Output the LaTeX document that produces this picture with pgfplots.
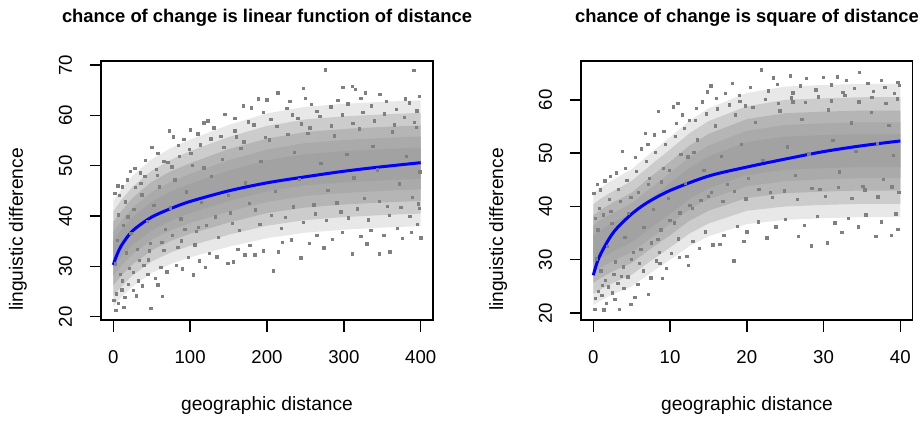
\documentclass[border=0pt]{standalone}
\usepackage{fontspec}
\setmainfont{Liberation Sans}
\usepackage{pgfplots}
\pgfplotsset{compat=1.18}

\pgfplotsset{
  rplot/.style={
    scale only axis,
    anchor=south west,
    height=129.5pt,
    axis line style={line width=0.7pt},
    every tick/.style={black, line width=0.7pt},
    tick align=outside,
    tick pos=left,
    major tick length=5.75pt,
    /pgf/number format/assume math mode=true,
    tick label style={font=\fontsize{9.3}{11}\selectfont},
    xticklabel style={anchor=base, yshift=-15.75pt},
    yticklabel style={rotate=90, anchor=south, inner sep=0pt, outer sep=0pt},
    yticklabel shift=8.75pt,
  },
  band1/.style={fill=gray!18, draw=none},
  band2/.style={fill=gray!40, draw=none},
  band3/.style={fill=gray!58, draw=none},
  band4/.style={fill=gray!67, draw=none},
  band5/.style={fill=gray!73, draw=none},
  dots/.style={color=gray, only marks, mark=square*, mark size=0.6pt, mark options={draw=none, fill=gray}},
  fit/.style={blue, line width=1.5pt, no marks, smooth},
}

\begin{document}
\begin{tikzpicture}
\path[use as bounding box] (0,0) rectangle (460pt,210pt);

% left panel
\begin{axis}[rplot, at={(50.5pt,50pt)}, width=166pt,
  xmin=-16, xmax=416, ymin=19.35, ymax=70.8,
  xtick={0,100,200,300,400}, ytick={20,30,40,50,60,70}]
\addplot[band1] coordinates {(0,43) (10,45.2) (25,48) (50,51.3) (75,53.5) (100,55.2) (150,58.1) (200,60.4) (250,61.7) (300,62.3) (350,62.7) (400,63)
 (400,38) (350,37.7) (300,37.3) (250,36.7) (200,35.6) (150,33.9) (100,31.8) (75,30.5) (50,28.7) (25,26) (10,23.8) (0,22)} -- cycle;
\addplot[band2] coordinates {(0,40.9) (10,43.1) (25,45.8) (50,49) (75,51.2) (100,52.9) (150,55.7) (200,57.9) (250,59.2) (300,59.8) (350,60.2) (400,60.5)
 (400,40.5) (350,40.2) (300,39.8) (250,39.2) (200,38.1) (150,36.3) (100,34.1) (75,32.8) (50,31) (25,28.2) (10,25.9) (0,24.1)} -- cycle;
\addplot[band3] coordinates {(0,38.8) (10,40.9) (25,43.6) (50,46.8) (75,48.9) (100,50.5) (150,53.3) (200,55.4) (250,56.7) (300,57.3) (350,57.7) (400,58)
 (400,43) (350,42.7) (300,42.3) (250,41.7) (200,40.6) (150,38.7) (100,36.5) (75,35.1) (50,33.2) (25,30.4) (10,28.1) (0,26.2)} -- cycle;
\addplot[band4] coordinates {(0,36.9) (10,39) (25,41.6) (50,44.8) (75,46.8) (100,48.4) (150,51.1) (200,53.2) (250,54.5) (300,55.1) (350,55.5) (400,55.8)
 (400,45.3) (350,45) (300,44.6) (250,44) (200,42.8) (150,40.9) (100,38.6) (75,37.2) (50,35.3) (25,32.4) (10,30) (0,28.1)} -- cycle;
\addplot[band5] coordinates {(0,35.1) (10,37.2) (25,39.8) (50,42.8) (75,44.9) (100,46.4) (150,49) (200,51.1) (250,52.3) (300,52.9) (350,53.3) (400,53.6)
 (400,47.4) (350,47.1) (300,46.7) (250,46.1) (200,44.9) (150,43) (100,40.6) (75,39.1) (50,37.2) (25,34.3) (10,31.8) (0,29.9)} -- cycle;
\addplot[dots] coordinates {
(276,69.0) (391,68.9) (299,65.6) (247,65.4) (214,64.5) (380,63.3) (169,61.9) (189,63.3) (200,63.1) (322,63.4) (328,64.5) (347,64.2) (315,65.2) (73,56.9) (118,58.5) (123,58.9) (311,65.7)
(49,21.7) (3.5,21.3) (64,24) (104,28.3) (149,30.6) (156,30.9) (171,32.3) (184,32.3) (208,29.1) (244,31.7) (311,32.5) (346,32.5) (360,32.9) (274,33.7) (400,35.7) (376,35.6)
(2,44.5) (6,46) (12,45.8) (18,47.2) (28,49.5) (35,48.6) (42,51) (58,52.4) (66,50.8) (85,54) (92,55.2) (110,56.3) (131,57.5) (140,55.8) (158,59.4) (176,58.7) (195,60.6) (205,59.2) (226,61.4) (233,60.1) (258,62.2) (265,60.8) (283,61.7) (292,63) (305,62.3) (336,61.9) (355,62.8) (368,61.2) (385,62.5) (395,60.9) (398,63.8) (250,63.4) (180,61.5) (145,60.2) (100,57.1) (78,55.7) (22,48.9) (8,44.1) (50,53.6) (230,62.8)
(1,23.2) (4,24.5) (7,22.6) (11,25.3) (15,23.9) (20,26.4) (26,25.2) (33,27.1) (38,26.1) (45,28.4) (55,27.6) (62,29.8) (70,28.9) (82,30.2) (90,29.5) (98,31.8) (112,31.1) (125,32.6) (135,31.9) (162,33.4) (178,34.2) (195,33.1) (220,34.8) (232,35.3) (255,34.6) (265,36.2) (285,35.4) (298,36.7) (322,35.9) (335,37.2) (352,36.1) (370,37.5) (388,36.8) (396,38.3) (14,21.9) (30,24.1) (58,26.3) (120,29.8) (215,32.9) (330,34.5)
(3,30.5) (5,35.2) (9,28.4) (13,38.1) (17,32.7) (23,36.5) (27,41.3) (31,33.4) (37,44.2) (44,38.9) (48,34.6) (53,42.1) (60,45.8) (68,37.3) (74,41.6) (80,47.2) (88,39.4) (95,44.8) (103,50.1) (108,36.9) (115,42.7) (128,47.9) (133,39.8) (142,51.2) (150,44.1) (155,38.5) (166,53.4) (172,46.6) (185,41.2) (192,50.8) (203,55.1) (211,44.9) (224,39.7) (236,52.6) (242,47.3) (253,56.4) (261,42.2) (270,50.5) (279,45.1) (288,55.9) (296,40.8) (304,52.2) (313,47.6) (320,57.3) (327,43.5) (338,53.8) (344,49.2) (357,41.9) (363,56.7) (372,46.4) (381,51.9) (389,43.7) (394,57.6) (399,48.8) (398,41.5) (245,58.3) (160,55.7) (118,49.6) (84,33.8) (40,30.2)
(7,40.2) (16,42.8) (21,29.6) (29,45.7) (34,31.2) (41,47.9) (47,33.1) (56,49.3) (63,34.8) (71,50.6) (77,36.2) (86,51.9) (93,37.4) (99,53.2) (106,34.3) (113,54.1) (121,38.2) (127,55.3) (137,35.8) (144,53.6) (152,40.6) (158,56.9) (164,37.2) (170,54.7) (177,42.5) (183,58.1) (191,38.3) (198,55.6) (206,40.1) (213,57.8) (219,37.6) (227,56.2) (234,41.8) (240,59.4) (247,38.7) (256,57.5) (263,40.4) (269,59.8) (277,39.1) (284,57.9) (291,42.6) (298,60.1) (306,39.6) (312,58.4) (318,41.4) (325,60.6) (332,39.2) (340,58.9) (346,42.9) (353,60.3) (359,40.1) (366,58.1) (374,41.7) (379,59.6) (386,39.9) (392,58.6) (397,42.4) (12,27.1) (19,39.8) (26,28.8) (36,46.5) (46,31.3) (57,48.1) (66,33.2) (76,49.8) (89,35.1) (101,52.4) (111,37.8)
};
\addplot[fit] coordinates {(0,30.3) (2,31.2) (5,32.4) (10,34.0) (20,36.2) (30,37.7) (50,39.8) (75,41.5) (100,42.9) (150,45.0) (200,46.6) (250,47.8) (300,48.9) (350,49.8) (400,50.6)};
\end{axis}

% right panel
\begin{axis}[rplot, at={(290.5pt,50pt)}, width=165.8pt,
  xmin=-1.6, xmax=41.6, ymin=18.7, ymax=67.3,
  xtick={0,10,20,30,40}, ytick={20,30,40,50,60}]
\addplot[band1] coordinates {(0,42.5) (1,43.6) (2.5,44.95) (5,47) (7.5,50.05) (10,53) (12.5,56.05) (15,58.4) (20,61.3) (25,62.5) (30,62.8) (35,63) (40,63)
 (40,38) (35,38) (30,37.8) (25,37.5) (20,36.7) (15,34.4) (12.5,32.55) (10,30) (7.5,27.55) (5,25) (2.5,23.45) (1,22.4) (0,21.5)} -- cycle;
\addplot[band2] coordinates {(0,40.4) (1,41.5) (2.5,42.8) (5,44.8) (7.5,47.8) (10,50.7) (12.5,53.7) (15,56) (20,58.8) (25,60) (30,60.3) (35,60.5) (40,60.5)
 (40,40.5) (35,40.5) (30,40.3) (25,40) (20,39.2) (15,36.8) (12.5,34.9) (10,32.3) (7.5,29.8) (5,27.2) (2.5,25.6) (1,24.5) (0,23.6)} -- cycle;
\addplot[band3] coordinates {(0,38.3) (1,39.4) (2.5,40.7) (5,42.6) (7.5,45.6) (10,48.4) (12.5,51.4) (15,53.6) (20,56.4) (25,57.5) (30,57.8) (35,58) (40,58)
 (40,43) (35,43) (30,42.8) (25,42.5) (20,41.6) (15,39.2) (12.5,37.3) (10,34.6) (7.5,32.1) (5,29.4) (2.5,27.8) (1,26.6) (0,25.7)} -- cycle;
\addplot[band4] coordinates {(0,36.4) (1,37.5) (2.5,38.7) (5,40.6) (7.5,43.5) (10,46.3) (12.5,49.2) (15,51.4) (20,54.2) (25,55.3) (30,55.6) (35,55.8) (40,55.8)
 (40,45.3) (35,45.3) (30,45.1) (25,44.8) (20,43.8) (15,41.4) (12.5,39.4) (10,36.7) (7.5,34.1) (5,31.4) (2.5,29.7) (1,28.6) (0,27.6)} -- cycle;
\addplot[band5] coordinates {(0,34.6) (1,35.7) (2.5,36.9) (5,38.8) (7.5,41.6) (10,44.4) (12.5,47.2) (15,49.4) (20,52.1) (25,53.1) (30,53.4) (35,53.6) (40,53.6)
 (40,47.4) (35,47.4) (30,47.2) (25,46.9) (20,45.9) (15,43.4) (12.5,41.4) (10,38.6) (7.5,36) (5,33.3) (2.5,31.5) (1,30.4) (0,29.4)} -- cycle;
\addplot[dots] coordinates {
(21.9,65.6) (34.7,65.2) (25.7,64.5) (27.8,64.0) (30,64.2) (31.8,64.3) (33,63.7) (37.5,63.7) (39.7,63.3) (18.1,63.1) (14.9,61.5) (8.5,57.8) (10.4,58.7) (3.8,50.3)
(0.2,20.7) (1.4,20.6) (3.4,20.7) (4.9,21.6) (5.4,22.9) (7.2,23.5) (1.7,21.8) (2.8,22.6) (8.7,29.3) (12.2,30.6) (12.4,29.0) (15.6,32.8) (16.5,32.9) (18.3,29.8) (28.4,32.6) (30.5,33.2) (26.7,34.4) (22.6,34.1) (36.8,34.4) (38.8,34.6) (39.7,35.7)
(0.1,42.5) (0.5,44.2) (0.9,43.1) (1.5,44.8) (2.2,45.6) (3,46.3) (4.2,47.1) (5.5,49.2) (6.3,50.8) (7.1,51.6) (8,53.4) (9.2,54.1) (10.8,55.6) (11.6,57.2) (12.5,56.1) (13.4,58.4) (14.2,59.6) (16,60.3) (17.2,61.2) (19,60.8) (20.5,62.4) (22.8,61.7) (24,62.9) (26,61.3) (27,62.6) (29,61.9) (31,62.8) (32.5,61.4) (34,62.2) (35.8,63.1) (36.5,61.6) (38,62.4) (39.2,61.2) (39.9,62.7) (15.3,62.6) (23.5,64.1) (11,59.4) (6.8,53.7)
(0.3,22.8) (0.7,24.1) (1.1,23.3) (2,24.9) (2.5,23.8) (3.2,25.6) (4,24.6) (4.5,26.8) (5.8,25.4) (6.5,27.9) (7.5,26.6) (8.2,29.8) (9.5,28.4) (10.2,31.2) (11.2,30.4) (13,33.5) (13.8,32.1) (14.6,35.2) (17,34.6) (18.8,36.3) (20,35.2) (21.5,37.1) (23.8,36.2) (25,37.6) (27.5,36.4) (29.2,38.1) (31.5,36.9) (33.2,37.8) (34.5,36.2) (35.5,38.4) (37.5,37.1) (39.4,38.6) (9,26.5) (19.6,33.4) (32.4,35.1)
(0.4,30.2) (0.6,35.6) (1,27.9) (1.3,38.4) (1.8,32.5) (2.4,36.8) (2.9,29.6) (3.5,40.9) (4.1,34.2) (4.6,38.7) (5.2,31.4) (5.9,42.6) (6.6,36.1) (7.3,45.3) (7.8,39.4) (8.4,33.8) (9.1,47.2) (9.8,41.5) (10.6,36.9) (11.4,49.8) (12,44.3) (12.9,39.6) (13.6,52.5) (14.4,46.8) (15,41.9) (15.9,55.1) (16.7,49.4) (17.5,44.1) (18.5,57.2) (19.3,51.6) (20.2,45.3) (21.1,55.8) (22.1,48.7) (23.1,42.6) (24.3,57.9) (25.3,51.2) (26.3,45.8) (27.2,56.3) (28.1,49.9) (29.5,43.2) (30.6,58.1) (31.2,52.4) (32.1,46.5) (33.6,55.7) (34.2,50.3) (35.1,43.8) (36.2,57.6) (37,51.8) (37.8,45.1) (38.5,55.2) (39.1,49.6) (39.8,42.7) (26,59.6) (19.8,58.9) (13.1,50.2) (8.9,44.6)
(0.8,39.6) (1.6,26.1) (2.1,41.3) (2.7,27.3) (3.3,43.2) (3.9,28.7) (4.4,44.9) (5,30.1) (5.6,46.6) (6.2,31.9) (6.9,48.5) (7.6,33.2) (8.1,50.2) (8.8,35.6) (9.4,51.7) (10,37.4) (10.7,53.1) (11.3,38.8) (11.9,54.7) (12.6,40.2) (13.3,56.2) (14,41.1) (14.7,57.4) (15.4,42.6) (16.2,58.3) (16.9,40.9) (17.7,59.1) (18.4,42.8) (19.1,59.7) (19.9,41.4) (20.8,58.6) (21.6,43.2) (22.4,60.1) (23.3,41.7) (24.1,59.3) (24.9,42.9) (25.8,60.4) (26.6,41.3) (27.6,59.5) (28.5,43.4) (29.3,60.6) (30.2,41.9) (31,59.8) (31.9,43.6) (32.8,60.9) (33.7,41.5) (34.6,59.6) (35.4,43.1) (36.3,60.5) (37.1,41.8) (38.1,59.4) (38.9,43.7) (39.6,60.2) (0.3,37.8) (1.2,25.2) (2.3,39.1) (3.7,26.9) (4.9,41.7) (6,29.3) (7.2,44.1) (8.6,31.4) (9.9,46.8) (11.1,33.9) (12.3,49.3)
};
\addplot[fit] coordinates {(0,27.1) (0.5,29.5) (1,31.2) (2,33.8) (3,35.8) (5,38.6) (7,40.7) (10,43.0) (15,45.7) (20,47.4) (25,48.9) (30,50.3) (35,51.4) (40,52.3)};
\end{axis}

% titles and axis labels
\node[anchor=base, font=\fontsize{9.2}{11}\selectfont\bfseries] at (133.5pt,199pt) {chance of change is linear function of distance};
\node[anchor=base, font=\fontsize{9.2}{11}\selectfont\bfseries] at (373.5pt,199pt) {chance of change is square of distance};
\node[anchor=base, font=\fontsize{9.6}{11}\selectfont] at (133.5pt,5pt) {geographic distance};
\node[anchor=base, font=\fontsize{9.6}{11}\selectfont] at (373.5pt,5pt) {geographic distance};
\node[anchor=base, rotate=90, font=\fontsize{9.6}{11}\selectfont] at (11.5pt,95.25pt) {linguistic difference};
\node[anchor=base, rotate=90, font=\fontsize{9.6}{11}\selectfont] at (251.5pt,95.25pt) {linguistic difference};
\end{tikzpicture}
\end{document}
